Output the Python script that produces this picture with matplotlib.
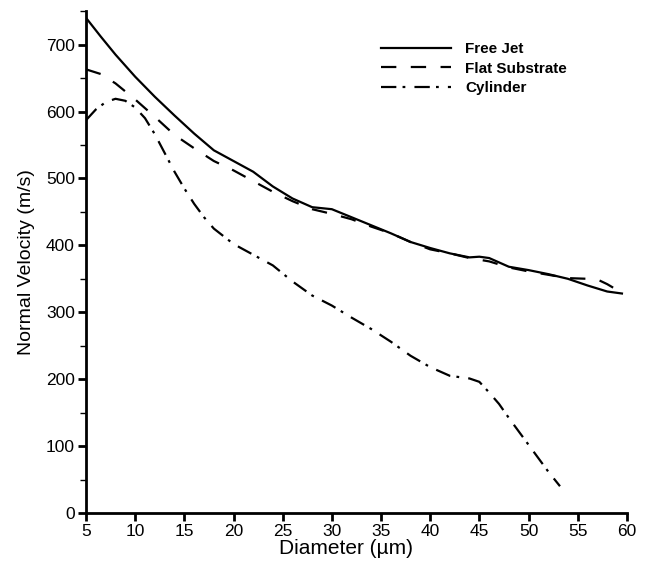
import numpy as np
import matplotlib
matplotlib.use('Agg')
import matplotlib.pyplot as plt

plt.rcParams['font.family'] = ['Liberation Sans', 'DejaVu Sans']

# ── Velocity profiles along the droplet diameter ──
jet_d = [5, 6.5, 8, 10, 12, 14, 16, 18, 20, 22, 24, 26, 28, 30, 32, 34, 36, 38,
         40, 42, 44, 45, 46, 48, 50, 52, 54, 56, 58, 59.5]
jet_v = [740, 712, 685, 652, 622, 594, 567, 542, 526, 510, 488, 470, 457, 454,
         442, 430, 418, 405, 396, 388, 382, 383, 381, 368, 363, 357, 350, 340,
         331, 328]

flat_d = [5, 6.5, 8, 10, 12, 14, 16, 18, 20, 22, 24, 26, 28, 30, 32, 34, 36, 38,
          40, 42, 44, 46, 48, 50, 52, 54, 56, 57, 58, 59.5]
flat_v = [663, 656, 642, 618, 592, 565, 545, 526, 512, 496, 480, 466, 454, 447,
          439, 428, 418, 405, 394, 388, 381, 376, 367, 361, 356, 351, 350, 349,
          342, 329]

cyl_d = [5, 6, 7, 8, 9, 10, 11, 12, 13, 14, 15, 16, 17, 18, 20, 22, 24, 26, 28,
         30, 32, 34, 36, 38, 40, 42, 44, 45, 46, 47, 48, 50, 52, 53.2]
cyl_v = [587, 603, 614, 619, 616, 606, 590, 566, 538, 510, 485, 462, 442, 425,
         402, 386, 370, 346, 325, 310, 292, 275, 256, 235, 218, 205, 201, 196,
         180, 163, 142, 102, 62, 40]

fig = plt.figure(figsize=(6.54, 5.62), dpi=100)
ax = fig.add_axes([0.1315, 0.0872, 0.827, 0.893])

ax.plot(jet_d, jet_v, color='black', lw=1.6, ls='-', label='Free Jet')
ax.plot(flat_d, flat_v, color='black', lw=1.6, ls=(0, (6.9, 6.5)), label='Flat Substrate')
ax.plot(cyl_d, cyl_v, color='black', lw=1.6, ls=(0, (6.9, 2.8, 1.25, 4.1)), label='Cylinder')

ax.set_xlim(5, 60)
ax.set_ylim(0, 750)
ax.set_xticks(np.arange(5, 61, 5))
ax.set_yticks(np.arange(0, 701, 100))
ax.set_yticks(np.arange(50, 751, 100), minor=True)

for side in ['top', 'right']:
    ax.spines[side].set_visible(False)
for side in ['left', 'bottom']:
    ax.spines[side].set_linewidth(2)

ax.tick_params(axis='both', which='major', direction='out', length=6, width=2,
               labelsize=12.5, pad=2)
ax.tick_params(axis='y', which='minor', direction='out', length=4, width=1)

ax.set_xlabel('Diameter (µm)', fontsize=15)
ax.xaxis.set_label_coords(0.48, -0.052)
ax.set_ylabel('Normal Velocity (m/s)', fontsize=14, labelpad=8)

leg = ax.legend(loc='upper left', bbox_to_anchor=(0.52, 0.965), frameon=False,
                handlelength=4.6, handletextpad=0.9, labelspacing=0.35,
                prop={'size': 11, 'weight': 'bold'})

fig.savefig('out.png', dpi=100)
